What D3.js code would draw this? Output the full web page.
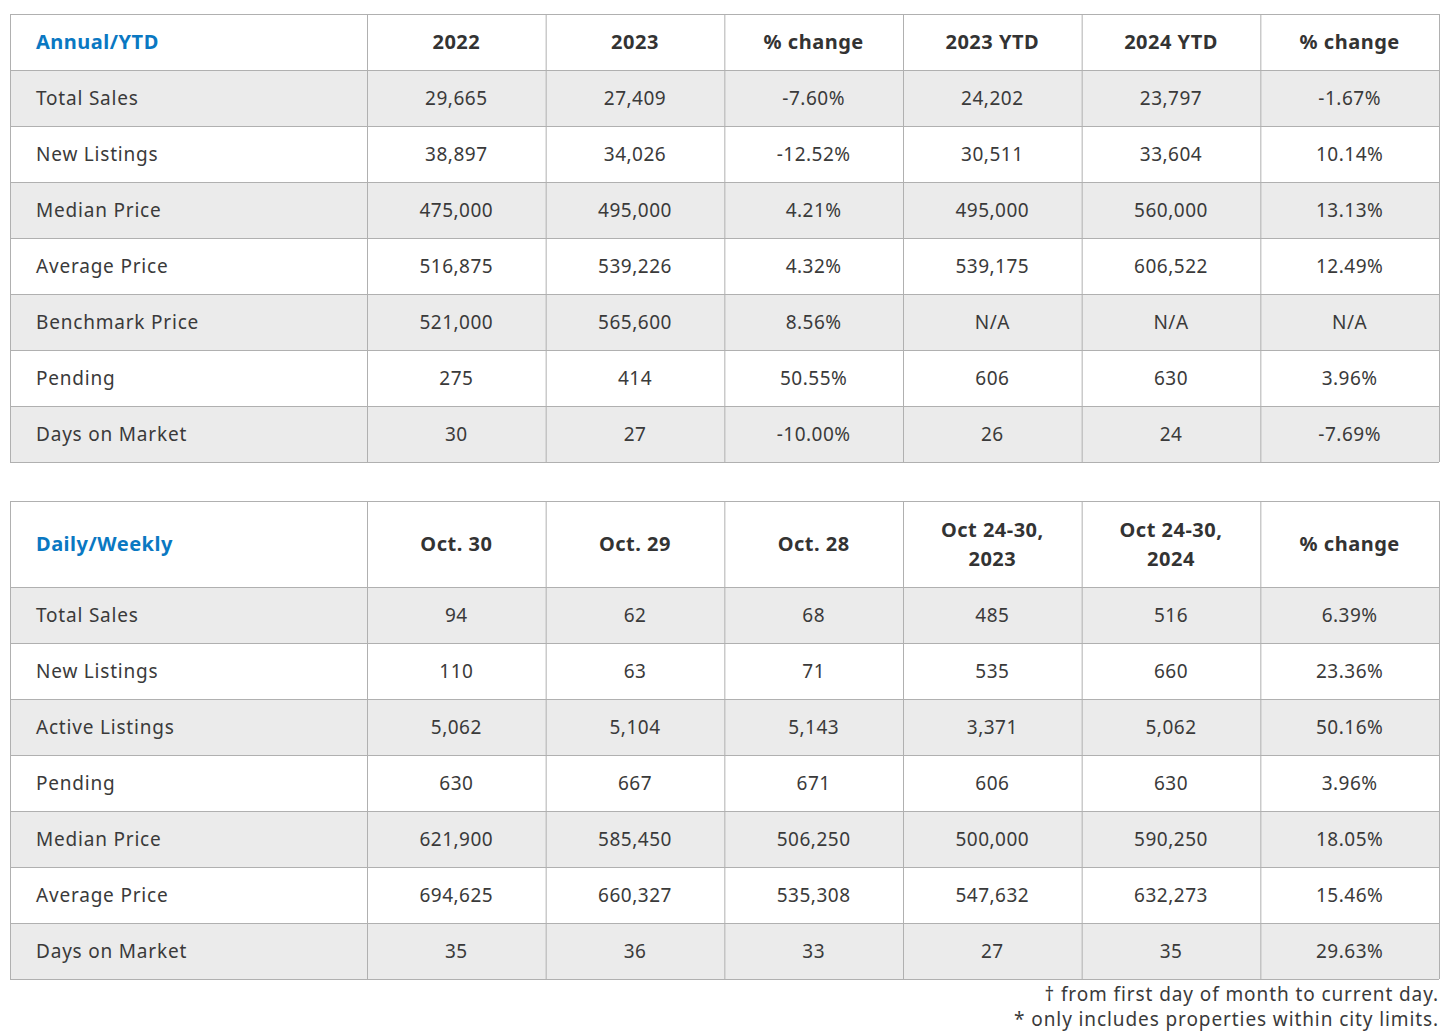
<!DOCTYPE html>
<html>
<head>
<meta charset="utf-8">
<script src="https://cdn.jsdelivr.net/npm/d3@7"></script>
<style>
  body { margin: 0; background: #fff; }
  svg text { font-family: "Noto Sans", "Open Sans", sans-serif; }
</style>
</head>
<body>
<div class="tables"></div>
<script>
const WIDTH = 1452;
const HEIGHT = 1033;
const LEFT = 10;
const RIGHT = 1439;
const LABEL_COL = 357;
const ROW_H = 56;

// Annual / YTD table
const annualTitle = 'Annual/YTD';
const annualCols = ['2022', '2023', '% change', '2023 YTD', '2024 YTD', '% change'];
const annualRows = ['Total Sales', 'New Listings', 'Median Price', 'Average Price', 'Benchmark Price', 'Pending', 'Days on Market'];
const annualValues = [
  ['29,665', '27,409', '-7.60%', '24,202', '23,797', '-1.67%'],
  ['38,897', '34,026', '-12.52%', '30,511', '33,604', '10.14%'],
  ['475,000', '495,000', '4.21%', '495,000', '560,000', '13.13%'],
  ['516,875', '539,226', '4.32%', '539,175', '606,522', '12.49%'],
  ['521,000', '565,600', '8.56%', 'N/A', 'N/A', 'N/A'],
  ['275', '414', '50.55%', '606', '630', '3.96%'],
  ['30', '27', '-10.00%', '26', '24', '-7.69%']
];

// Daily / Weekly table
const dailyTitle = 'Daily/Weekly';
const dailyCols = [['Oct. 30'], ['Oct. 29'], ['Oct. 28'], ['Oct 24-30,', '2023'], ['Oct 24-30,', '2024'], ['% change']];
const dailyRows = ['Total Sales', 'New Listings', 'Active Listings', 'Pending', 'Median Price', 'Average Price', 'Days on Market'];
const dailyValues = [
  ['94', '62', '68', '485', '516', '6.39%'],
  ['110', '63', '71', '535', '660', '23.36%'],
  ['5,062', '5,104', '5,143', '3,371', '5,062', '50.16%'],
  ['630', '667', '671', '606', '630', '3.96%'],
  ['621,900', '585,450', '506,250', '500,000', '590,250', '18.05%'],
  ['694,625', '660,327', '535,308', '547,632', '632,273', '15.46%'],
  ['35', '36', '33', '27', '35', '29.63%']
];

const footnotes = [
  '\u2020 from first day of month to current day.',
  '* only includes properties within city limits.'
];

const svg = d3.select('.tables').append('svg')
  .attr('width', WIDTH)
  .attr('height', HEIGHT);

var drawTable = function (top, headerH, title, cols, rows, values) {
  var g = svg.append('g');
  var colX = d3.scaleBand()
    .domain(d3.range(cols.length))
    .range([LEFT + LABEL_COL, RIGHT]);
  var rowY = d3.scaleBand()
    .domain(d3.range(rows.length))
    .range([top + headerH, top + headerH + rows.length * ROW_H]);
  var bottom = top + headerH + rows.length * ROW_H;

  // row backgrounds
  g.selectAll('rect.row')
    .data(rows)
    .enter().append('rect')
    .attr('x', LEFT)
    .attr('y', function (d, i) { return rowY(i); })
    .attr('width', RIGHT - LEFT)
    .attr('height', rowY.bandwidth())
    .attr('fill', function (d, i) { return i % 2 === 0 ? '#ebebeb' : '#fff'; });

  // horizontal lines
  var hLines = [top, top + headerH].concat(d3.range(1, rows.length + 1).map(function (i) { return top + headerH + i * ROW_H; }));
  g.selectAll('line.h')
    .data(hLines)
    .enter().append('line')
    .attr('x1', LEFT).attr('x2', RIGHT)
    .attr('y1', function (d) { return d + 0.5; })
    .attr('y2', function (d) { return d + 0.5; })
    .attr('stroke', '#b0b0b0');

  // vertical lines
  var vLines = [LEFT].concat(d3.range(cols.length).map(function (i) { return colX(i); }), [RIGHT]);
  g.selectAll('line.v')
    .data(vLines)
    .enter().append('line')
    .attr('x1', function (d) { return d + 0.5; })
    .attr('x2', function (d) { return d + 0.5; })
    .attr('y1', top).attr('y2', bottom)
    .attr('stroke', '#b0b0b0');

  // header
  g.append('text')
    .attr('x', LEFT + 26)
    .attr('y', top + headerH / 2)
    .attr('dy', '0.35em')
    .attr('font-size', 20)
    .attr('font-weight', 'bold')
    .attr('letter-spacing', 0.5)
    .attr('fill', '#0a78c2')
    .text(title);

  cols.forEach(function (c, i) {
    var lines = Array.isArray(c) ? c : [c];
    var t = g.append('text')
      .attr('x', colX(i) + colX.bandwidth() / 2)
      .attr('text-anchor', 'middle')
      .attr('font-size', 20)
      .attr('font-weight', 'bold')
      .attr('letter-spacing', 0.5)
      .attr('fill', '#333');
    lines.forEach(function (l, j) {
      t.append('tspan')
        .attr('x', colX(i) + colX.bandwidth() / 2)
        .attr('y', top + headerH / 2 + (j - (lines.length - 1) / 2) * 29)
        .attr('dy', '0.35em')
        .text(l);
    });
  });

  // body
  g.selectAll('text.label')
    .data(rows)
    .enter().append('text')
    .attr('x', LEFT + 26)
    .attr('y', function (d, i) { return rowY(i) + ROW_H / 2; })
    .attr('dy', '0.35em')
    .attr('font-size', 19)
    .attr('letter-spacing', 0.8)
    .attr('fill', '#3a3a3a')
    .text(function (d) { return d; });

  values.forEach(function (row, r) {
    g.selectAll(null)
      .data(row)
      .enter().append('text')
      .attr('x', function (d, i) { return colX(i) + colX.bandwidth() / 2; })
      .attr('y', rowY(r) + ROW_H / 2)
      .attr('dy', '0.35em')
      .attr('text-anchor', 'middle')
      .attr('font-size', 19)
      .attr('letter-spacing', 0.5)
      .attr('fill', '#3a3a3a')
      .text(function (d) { return d; });
  });
};

drawTable(14, 56, annualTitle, annualCols, annualRows, annualValues);
drawTable(501, 86, dailyTitle, dailyCols, dailyRows, dailyValues);

svg.selectAll('text.note')
  .data(footnotes)
  .enter().append('text')
  .attr('x', RIGHT)
  .attr('y', function (d, i) { return 1001 + i * 25; })
  .attr('text-anchor', 'end')
  .attr('font-size', 19)
  .attr('letter-spacing', 0.9)
  .attr('fill', '#3a3a3a')
  .text(function (d) { return d; });
</script>
</body>
</html>
